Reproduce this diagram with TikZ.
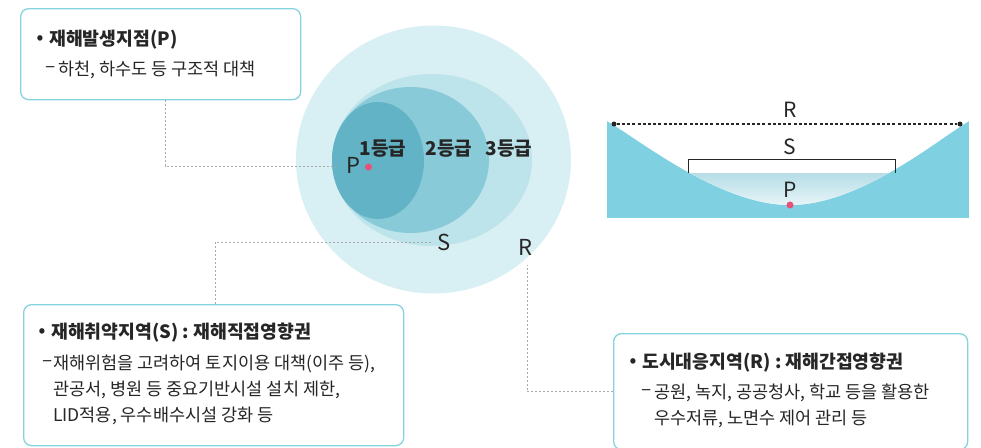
\documentclass[tikz,border=0pt]{standalone}
\usepackage{fontspec}
\setmainfont{Noto Sans CJK KR}
\definecolor{boxline}{HTML}{86D2DE}
\definecolor{ink}{HTML}{262626}
\definecolor{linkgray}{HTML}{AAAAAA}
\definecolor{zoneR}{HTML}{D8EFF3}
\definecolor{zoneC}{HTML}{BDE4EB}
\definecolor{zoneB}{HTML}{88CAD8}
\definecolor{zoneA}{HTML}{63B3C7}
\definecolor{ground}{HTML}{7FD1E2}
\definecolor{waterTop}{HTML}{B6DDE7}
\definecolor{waterBot}{HTML}{E8F5F8}
\definecolor{spot}{HTML}{E8507A}
\begin{document}
\begin{tikzpicture}[x=1pt,y=-1pt,
  infobox/.style={draw=boxline, line width=1.3pt, rounded corners=8pt, fill=white,
    inner sep=0pt, anchor=north west},
  bullet/.style={inner sep=0pt, font=\fontsize{17}{20}\selectfont\bfseries, text=ink},
  title/.style={anchor=west, inner sep=0pt, font=\fontsize{18.3}{21}\selectfont\bfseries, text=ink},
  dashmark/.style={inner sep=0pt, font=\fontsize{19}{21}\selectfont, text=ink},
  body/.style={anchor=west, inner sep=0pt, font=\fontsize{17.5}{20}\selectfont, text=ink},
  grade/.style={inner sep=0pt, font=\fontsize{19}{21}\selectfont\bfseries, text=ink},
  zone/.style={inner sep=0pt, font=\fontsize{22}{24}\selectfont, text=ink},
  xlabel/.style={inner sep=0pt, font=\fontsize{21}{23}\selectfont, text=ink},
  link/.style={draw=linkgray, line width=0.8pt, dash pattern=on 2pt off 2pt},
  spotdot/.style={circle, fill=spot, inner sep=0pt, minimum size=7pt},
  enddot/.style={circle, fill=ink, inner sep=0pt, minimum size=5pt}]
\clip (0,0) rectangle (981,447);

% nested influence zones
\fill[zoneR] (433.5,159.5) ellipse [x radius=137.5pt, y radius=134pt];
\fill[zoneC] (432,160) ellipse [x radius=100pt, y radius=86pt];
\fill[zoneB] (410.5,160) ellipse [x radius=78.5pt, y radius=73pt];
\fill[zoneA] (378,160.5) ellipse [x radius=46pt, y radius=58.5pt];

\node[grade] (g1) at (383,149) {1등급};
\node[grade] (g2) at (449,149) {2등급};
\node[grade] (g3) at (509,149) {3등급};
\node[zone] (zP) at (353,165) {P};
\node[spotdot] (dP) at (368.5,167) {};
\node[zone] (zS) at (444,242) {S};
\node[zone] (zR) at (525,247) {R};

\coordinate (pTip) at (338,166);
\coordinate (sTip) at (432,242);
\coordinate (rTip) at (527,265);

% river cross-section
\fill[ground] (607,121) rectangle (969,218);
\path[fill=white] (607,121) .. controls (640,140) and (720,205) .. (790,205)
  .. controls (860,205) and (937,140) .. (969,121) -- cycle;
\begin{scope}
  \clip (607,121) .. controls (640,140) and (720,205) .. (790,205)
    .. controls (860,205) and (937,140) .. (969,121) -- cycle;
  \shade[top color=waterTop, bottom color=waterBot] (600,173) rectangle (980,206);
\end{scope}
\node[enddot] (rL) at (614,124) {};
\node[enddot] (rR) at (960,124) {};
\draw[ink, line width=1.1pt, dash pattern=on 3pt off 2.2pt] (rL) -- (rR);
\coordinate (sL) at (688,173);
\coordinate (sR) at (895,173);
\draw[ink, line width=1pt] (sL) -- ++(0,-14) -| (sR);
\node[xlabel] (xR) at (790,110) {R};
\node[xlabel] (xS) at (790,146.5) {S};
\node[xlabel] (xP) at (790,190) {P};
\node[spotdot] (xDot) at (790,205) {};

% explanation boxes
\node[infobox, minimum width=280pt, minimum height=91pt] (boxP) at (20,8) {};
\node[bullet] (bP) at (40,39.5) {•};
\node[title] (tP) at (49,39.5) {재해발생지점(P)};
\node[dashmark] (dP1) at (50.5,70) {–};
\node[body] (lP1) at (58,70) {하천, 하수도 등 구조적 대책};

\node[infobox, minimum width=380pt, minimum height=141pt] (boxS) at (23,304) {};
\node[bullet] (bS) at (42,333) {•};
\node[title] (tS) at (51,333) {재해취약지역(S) : 재해직접영향권};
\node[dashmark] (dS1) at (47.5,364) {–};
\node[body] (lS1) at (53,364) {재해위험을 고려하여 토지이용 대책(이주 등),};
\node[body] (lS2) at (53,390) {관공서, 병원 등 중요기반시설 설치 제한,};
\node[body] (lS3) at (53,416) {LID적용, 우수배수시설 강화 등};

\node[infobox, minimum width=354pt, minimum height=116pt] (boxR) at (613,333) {};
\node[bullet] (bR) at (633,363) {•};
\node[title] (tR) at (642,363) {도시대응지역(R) : 재해간접영향권};
\node[dashmark] (dR1) at (647,393) {–};
\node[body] (lR1) at (654,393) {공원, 녹지, 공공청사, 학교 등을 활용한};
\node[body] (lR2) at (654,419) {우수저류, 노면수 제어 관리 등};

% leader lines
\draw[link] ([xshift=145pt]boxP.south west) |- (pTip);
\draw[link] ([xshift=192pt]boxS.north west) |- (sTip);
\draw[link] (boxR.west) -| (rTip);
\end{tikzpicture}
\end{document}
